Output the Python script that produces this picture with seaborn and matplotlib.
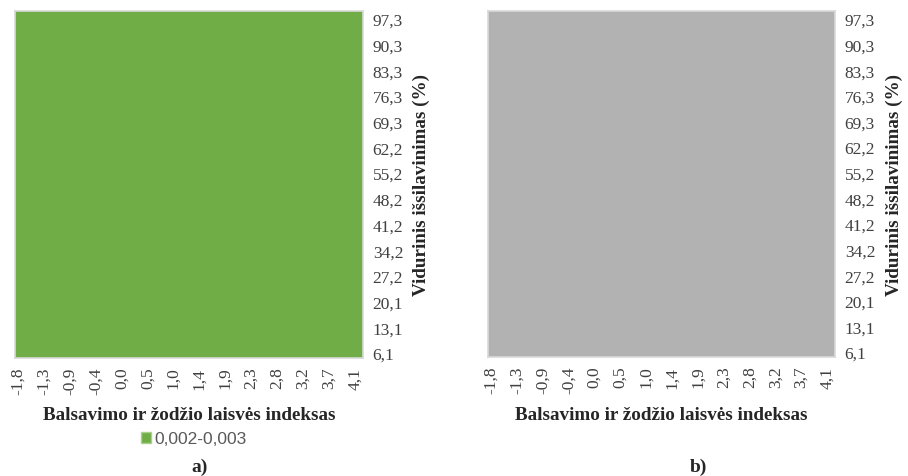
import numpy as np
import pandas as pd
import matplotlib
matplotlib.use("Agg")
import matplotlib.pyplot as plt
from matplotlib.colors import ListedColormap
from matplotlib.patches import Patch
import seaborn as sns

# Axis categories
x_labels = ["-1,8", "-1,3", "-0,9", "-0,4", "0,0", "0,5", "1,0",
            "1,4", "1,9", "2,3", "2,8", "3,2", "3,7", "4,1"]
y_labels = ["97,3", "90,3", "83,3", "76,3", "69,3", "62,2", "55,2",
            "48,2", "41,2", "34,2", "27,2", "20,1", "13,1", "6,1"]

# Surface values (rows top to bottom, columns left to right)
row_a = [0.0025, 0.0025, 0.0025, 0.0025, 0.0025, 0.0025, 0.0025,
         0.0025, 0.0025, 0.0025, 0.0025, 0.0025, 0.0025, 0.0025]
z_a = [row_a for _ in y_labels]
row_b = [0.0, 0.0, 0.0, 0.0, 0.0, 0.0, 0.0,
         0.0, 0.0, 0.0, 0.0, 0.0, 0.0, 0.0]
z_b = [row_b for _ in y_labels]

band_label = "0,002-0,003"
green = "#70ad47"
grey = "#b2b2b2"

sns.set_theme(style="white")
plt.rcParams["font.family"] = ["Liberation Serif", "DejaVu Serif"]

W, H = 908, 476
fig = plt.figure(figsize=(W / 100, H / 100), dpi=100)


def px_axes(left, top, right, bottom):
    return fig.add_axes([left / W, 1 - bottom / H, (right - left) / W, (bottom - top) / H])


def draw_panel(ax, z, color):
    df = pd.DataFrame(z, index=y_labels, columns=x_labels)
    sns.heatmap(df, ax=ax, cmap=ListedColormap([color]), cbar=False,
                xticklabels=False, yticklabels=False)
    n = len(x_labels)
    ax.set_xticks(np.linspace(0.12, n - 0.32, n))
    ax.set_xticklabels(x_labels, rotation=90, fontsize=12.5, color="#404040")
    ax.set_yticks(np.linspace(0.36, n - 0.16, n))
    ax.set_yticklabels(y_labels, fontsize=12.5, color="#404040")
    ax.yaxis.tick_right()
    ax.tick_params(axis="both", length=0)
    ax.tick_params(axis="x", pad=7)
    ax.tick_params(axis="y", pad=7)
    ax.set_xlabel("")
    ax.set_ylabel("")
    for s in ax.spines.values():
        s.set_visible(True)
        s.set_color("#d9d9d9")
        s.set_linewidth(1.2)


ax_a = px_axes(15, 11, 363, 358)
draw_panel(ax_a, z_a, green)
ax_b = px_axes(488, 11, 835, 357)
draw_panel(ax_b, z_b, grey)

xlab = "Balsavimo ir žodžio laisvės indeksas"
ylab = "Vidurinis išsilavinimas (%)"
for cx, ycx in [(189, 421), (661, 894)]:
    fig.text(cx / W, 1 - 416 / H, xlab, ha="center", va="center",
             fontsize=13.8, fontweight="bold")
    fig.text(ycx / W, 1 - 185 / H, ylab, ha="center", va="center",
             rotation=90, fontsize=13.8, fontweight="bold")

fig.legend(handles=[Patch(facecolor=green, edgecolor="#a9d18e", label=band_label)],
           loc="center", bbox_to_anchor=(194 / W, 1 - 439 / H), frameon=False,
           handlelength=0.6, handleheight=0.6, handletextpad=0.2,
           prop={"family": "Liberation Sans", "size": 12.5}, labelcolor="#595959")

fig.text(200 / W, 1 - 467 / H, "a)", ha="center", va="center", fontsize=14, fontweight="bold")
fig.text(698 / W, 1 - 467 / H, "b)", ha="center", va="center", fontsize=14, fontweight="bold")

fig.savefig("out.png", dpi=100)
